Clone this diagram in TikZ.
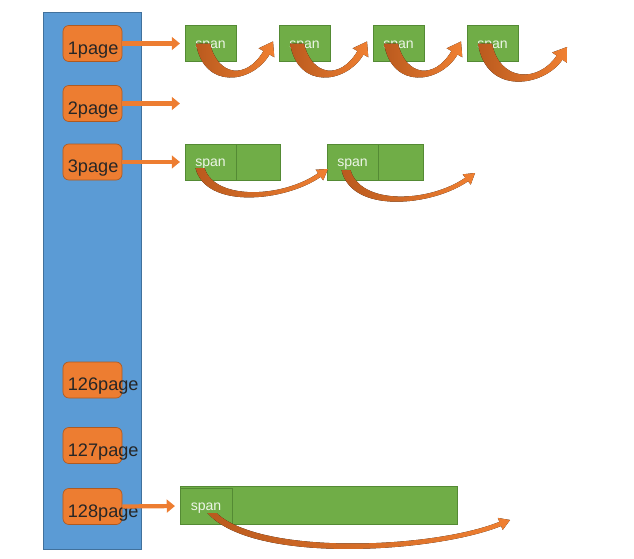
\documentclass[tikz,border=0pt]{standalone}
\usepackage{fontspec}
\setmainfont{Liberation Sans}
\usetikzlibrary{arrows.meta,positioning,calc}
\definecolor{colBlue}{RGB}{91,155,213}
\definecolor{colBorder}{RGB}{65,113,156}
\definecolor{pageOrange}{RGB}{237,125,49}
\definecolor{pageBorder}{RGB}{174,90,33}
\definecolor{spanGreen}{RGB}{112,173,71}
\definecolor{spanBorder}{RGB}{84,138,52}
\definecolor{spanText}{RGB}{236,245,230}
\definecolor{curveDark}{RGB}{186,90,30}
\definecolor{curveLight}{RGB}{240,128,50}
\tikzset{
  column/.style={draw=colBorder, fill=colBlue, line width=0.6pt, inner sep=0pt},
  pagebox/.style={draw=pageBorder, fill=pageOrange, rounded corners=5pt, line width=0.6pt,
    minimum width=1.77cm, minimum height=1.08cm, inner sep=0pt,
    font=\fontsize{15.5}{19}\selectfont, text=black!85},
  spanbox/.style={draw=spanBorder, fill=spanGreen, line width=0.6pt, outer sep=0pt, inner sep=0pt,
    minimum width=1.53cm, minimum height=1.08cm, font=\fontsize{12}{14}\selectfont, text=spanText},
  parr/.style={-{Triangle[length=7pt,width=11pt]}, line width=3.6pt, draw=pageOrange, shorten >=4.3pt},
  curvefill/.style={left color=curveDark, right color=curveLight},
}
% page label, starts near the left edge of its box
\newcommand\pgtxt[1]{\makebox[0pt][l]{\hspace{-21pt}\raisebox{-9pt}[0pt][0pt]{#1page}}}
\newcommand\spantxt{\raisebox{-4pt}[0pt][0pt]{span}}
% tapered curved arrow: start, tip, half width, head angle, ctrl offset 1, ctrl offset 2
\newcommand\spanarrow[6]{%
  \pgfmathsetmacro\arrBx{-(#3+6)*cos(#4)}%
  \pgfmathsetmacro\arrBy{(#3+6)*sin(#4)}%
  \pgfmathsetmacro\arrEx{(#3/2)*sin(#4)}%
  \pgfmathsetmacro\arrEy{(#3/2)*cos(#4)}%
  \pgfmathsetmacro\arrWx{(#3+2)*sin(#4)}%
  \pgfmathsetmacro\arrWy{(#3+2)*cos(#4)}%
  \coordinate (bb) at ($(#2)+(\arrBx,\arrBy)$);
  \fill[curvefill] ($(#1)+(-#3,0)$)
    .. controls ($(#1)+(#5)+(-#3,#3)$) and ($(bb)+(#6)+(\arrEx,\arrEy)$) .. ($(bb)+(\arrEx,\arrEy)$)
    -- ($(bb)+(\arrWx,\arrWy)$) -- (#2) -- ($(bb)-(\arrWx,\arrWy)$) -- ($(bb)-(\arrEx,\arrEy)$)
    .. controls ($(bb)+(#6)-(\arrEx,\arrEy)$) and ($(#1)+(#5)+(#3,-#3)$) .. ($(#1)+(#3,0)$) -- cycle;
}

\begin{document}
\begin{tikzpicture}[x=0.03cm, y=-0.03cm]
\useasboundingbox (0,0) rectangle (634,559);

%% PAGE COLUMN
\node[column, anchor=north west, minimum width=2.94cm, minimum height=16.11cm] (col) at (43,12) {};
\node[pagebox] (p1) at (92.5,43.5) {\pgtxt{1}};
\node[pagebox] (p2) at (92.5,103.5) {\pgtxt{2}};
\node[pagebox] (p3) at (92.5,162) {\pgtxt{3}};
\node[pagebox] (p126) at (92.5,380) {\pgtxt{126}};
\node[pagebox] (p127) at (92.5,445.5) {\pgtxt{127}};
\node[pagebox] (p128) at (92.5,506.5) {\pgtxt{128}};

%% ROW 1 - SINGLE SPANS
\node[spanbox] (s11) at (210.5,43.5) {\spantxt};
\node[spanbox, right=1.29cm of s11] (s12) {\spantxt};
\node[spanbox, right=1.29cm of s12] (s13) {\spantxt};
\node[spanbox, right=1.29cm of s13] (s14) {\spantxt};

%% ROW 3 - TWO PAGE SPANS
\node[spanbox] (s31) at (210.5,162) {\spantxt};
\node[spanbox, minimum width=1.32cm, right=0pt of s31] (s31b) {};
\node[spanbox, right=1.41cm of s31b] (s32) {\spantxt};
\node[spanbox, minimum width=1.35cm, right=0pt of s32] (s32b) {};

%% ROW 128 - ONE BIG SPAN
\node[spanbox, minimum width=8.31cm, minimum height=1.14cm] (blk128) at (318.5,505) {};
\node[spanbox, minimum width=1.56cm, anchor=south west] (s128) at (blk128.south west) {\spantxt};

%% ARROWS
\coordinate (e2) at (185,103.5);
\draw[parr] (p1.east) -- (s11.west);
\draw[parr] (p2.east) -- (e2);
\draw[parr] (p3.east) -- (s31.west);
\draw[parr] (p128.east) -- (s128.west);

\coordinate (a11) at ($(s11)+(-7.5,0)$);
\coordinate (t11) at ($(s12.west)+(-6,-2)$);
\coordinate (a12) at ($(s12)+(-7.5,0)$);
\coordinate (t12) at ($(s13.west)+(-6,-2)$);
\coordinate (a13) at ($(s13)+(-7.5,0)$);
\coordinate (t13) at ($(s14.west)+(-6,-2)$);
\coordinate (a14) at ($(s14)+(-7.5,0)$);
\coordinate (t14) at (567,47);
\spanarrow{a11}{t11}{7}{60}{8,40}{-17,29}
\spanarrow{a12}{t12}{7}{60}{8,40}{-17,29}
\spanarrow{a13}{t13}{7}{60}{8,40}{-17,29}
\spanarrow{a14}{t14}{7}{55}{8,46}{-18,27}

\coordinate (a31) at ($(s31)+(-10.5,6)$);
\coordinate (t31) at ($(s32.west)+(1,7)$);
\coordinate (a32) at ($(s32)+(-6.5,8)$);
\coordinate (t32) at (475,173);
\spanarrow{a31}{t31}{4.5}{35}{10,37}{-36,25}
\spanarrow{a32}{t32}{4.5}{38}{10,40}{-36,25}

\coordinate (a128) at ($(s128)+(6,7)$);
\coordinate (t128) at (510,520);
\spanarrow{a128}{t128}{4.5}{22}{45,47}{-67,27}

\end{tikzpicture}
\end{document}
